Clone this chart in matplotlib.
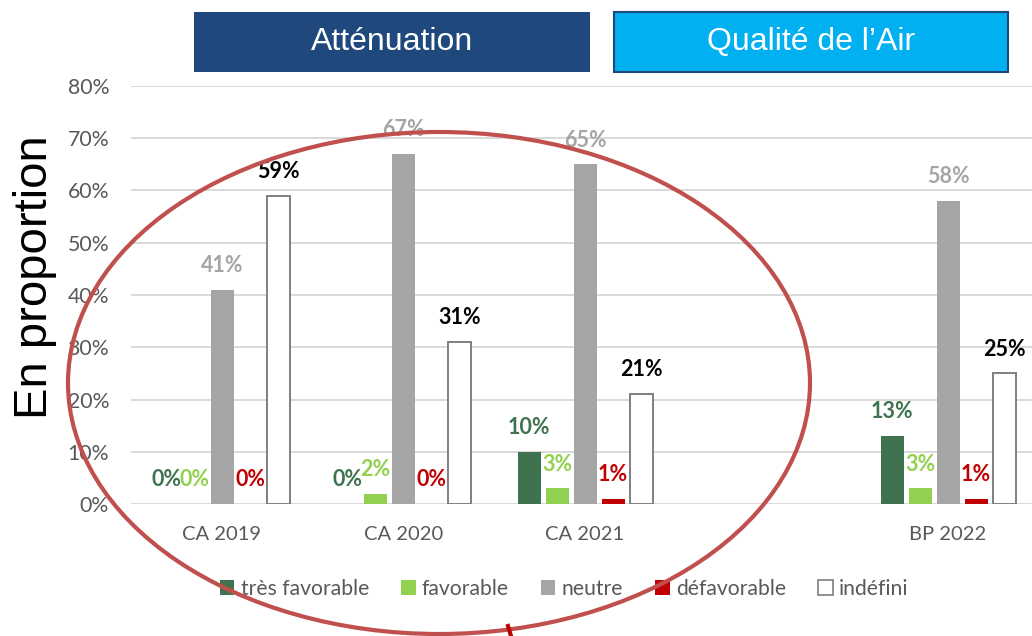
import matplotlib
matplotlib.use("Agg")
import matplotlib.pyplot as plt
import numpy as np
from matplotlib.patches import Ellipse, Rectangle, Patch
from matplotlib.lines import Line2D

categories = ["CA 2019", "CA 2020", "CA 2021", "", "BP 2022"]
series_names = ["très favorable", "favorable", "neutre", "défavorable", "indéfini"]
tres_favorable = [0, 0, 10, np.nan, 13]
favorable = [0, 2, 3, np.nan, 3]
neutre = [41, 67, 65, np.nan, 58]
defavorable = [0, 0, 1, np.nan, 1]
indefini = [59, 31, 21, np.nan, 25]
y_ticks = [0, 10, 20, 30, 40, 50, 60, 70, 80]

series_values = [tres_favorable, favorable, neutre, defavorable, indefini]
fill_colors = ["#3F7350", "#92D050", "#A5A5A5", "#C00000", "#FFFFFF"]
edge_colors = ["#3F7350", "#92D050", "#A5A5A5", "#C00000", "#7F7F7F"]
label_colors = ["#3F7350", "#92D050", "#A5A5A5", "#C00000", "#000000"]

W, H = 1032, 636
fig = plt.figure(figsize=(W / 100, H / 100), dpi=100)
fig.patch.set_facecolor("white")

ax_left, ax_right = 131.25, 1038.75
ax_bottom, ax_top = 504, 86
ax = fig.add_axes([ax_left / W, 1 - ax_bottom / H, (ax_right - ax_left) / W, (ax_bottom - ax_top) / H])

x = np.arange(len(categories))
pitch = 28 / 181.5
width = 23 / 181.5
label_font = "Lato"
for i, vals in enumerate(series_values):
    offs = (i - 2) * pitch
    v = np.array(vals, dtype=float)
    ax.bar(x + offs, v, width=width, color=fill_colors[i], edgecolor=edge_colors[i],
           linewidth=1.4 if i == 4 else 0, zorder=3)
    for xi, vi in zip(x, v):
        if np.isnan(vi):
            continue
        ax.annotate(f"{int(vi)}%", (xi + offs, vi), xytext=(0, 17.5), textcoords="offset points",
                    ha="center", va="center", fontsize=15.5, fontweight="bold",
                    color=label_colors[i], family=label_font, zorder=5)

ax.set_xlim(-0.5, len(categories) - 0.5)
ax.set_ylim(0, 80)
ax.set_yticks(y_ticks)
ax.set_yticklabels([f"{t}%" for t in y_ticks], fontsize=15.3, color="#595959", family=label_font)
ax.set_xticks(x)
ax.set_xticklabels(categories, fontsize=14.5, color="#595959", family=label_font)
ax.tick_params(axis="y", length=0, pad=16)
ax.tick_params(axis="x", length=0, pad=16)
ax.grid(axis="y", color="#D9D9D9", linewidth=1.4, zorder=0)
ax.set_axisbelow(True)
for s in ax.spines.values():
    s.set_visible(False)

# Legend
handles = [Patch(facecolor=fill_colors[i], edgecolor=edge_colors[i], linewidth=1.2 if i == 4 else 0)
           for i in range(5)]
leg = fig.legend(handles, series_names, loc="center", bbox_to_anchor=(564 / W, 1 - 589 / H),
                 ncol=5, frameon=False, handlelength=0.7, handleheight=0.7, handletextpad=0.3,
                 columnspacing=1.5, prop={"family": label_font, "size": 15.2})
for t in leg.get_texts():
    t.set_color("#595959")

# Y label
fig.text(35 / W, 1 - 277 / H, "En proportion", rotation=90, ha="center", va="center",
         fontsize=34, family="Liberation Sans", color="black")

# Header boxes
fig.add_artist(Rectangle((194 / W, 1 - 72 / H), (590 - 194) / W, 60 / H, transform=fig.transFigure,
                         facecolor="#1F497D", edgecolor="none"))
fig.text(392 / W, 1 - 42 / H, "Atténuation", ha="center", va="center", fontsize=23,
         family="Liberation Sans", color="white")
fig.add_artist(Rectangle((614 / W, 1 - 72 / H), (1008 - 614) / W, 60 / H, transform=fig.transFigure,
                         facecolor="#00B0F0", edgecolor="#1F497D", linewidth=1.5))
fig.text(811 / W, 1 - 42 / H, "Qualité de l’Air", ha="center", va="center", fontsize=23,
         family="Liberation Sans", color="white")

# Red ellipse annotation
fig.add_artist(Ellipse((439 / W, 1 - 383 / H), 742 / W, 502 / H, transform=fig.transFigure,
                       fill=False, edgecolor="#C0504D", linewidth=3, zorder=10))
fig.add_artist(Line2D([508 / W, 511 / W], [1 - 626 / H, 1 - 636 / H], transform=fig.transFigure,
                      color="#C00000", linewidth=3, zorder=11))

fig.savefig("out.png", dpi=100)
